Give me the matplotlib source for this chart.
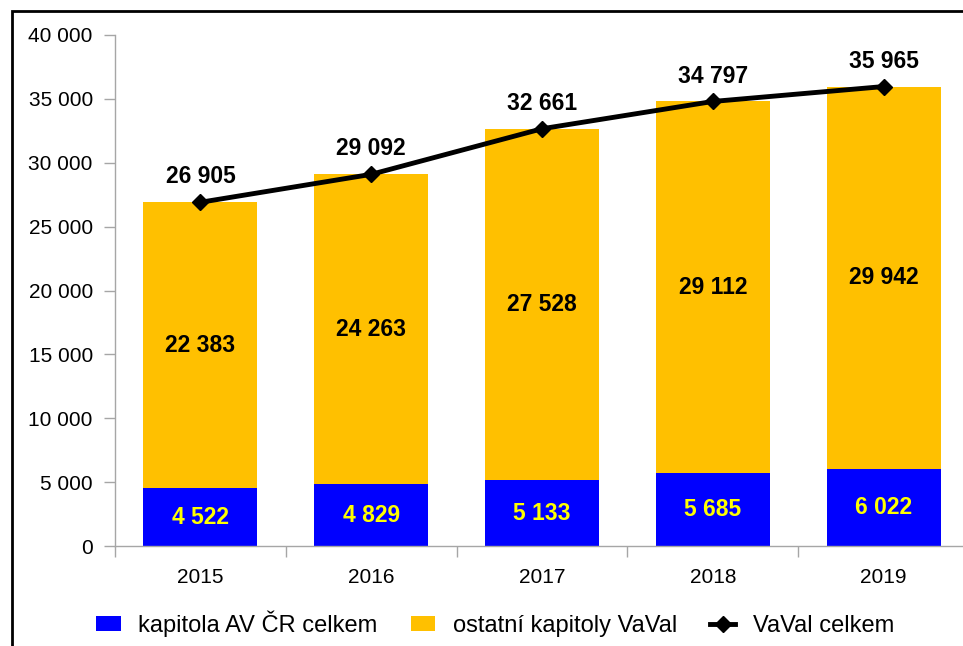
import numpy as np
import matplotlib.pyplot as plt
from matplotlib.patches import Rectangle
from matplotlib.ticker import FuncFormatter, FixedLocator

plt.rcParams['font.family'] = ['Liberation Sans', 'DejaVu Sans']

years = ["2015", "2016", "2017", "2018", "2019"]
av_cr = [4522, 4829, 5133, 5685, 6022]
ostatni = [22383, 24263, 27528, 29112, 29942]
vaval_celkem = [26905, 29092, 32661, 34797, 35965]


def fmt(v):
    return f"{v:,.0f}".replace(",", " ")


fig = plt.figure(figsize=(9.63, 6.46), dpi=100)
ax = fig.add_axes([115 / 963, 100 / 646, 854 / 963, 511 / 646])

x = np.arange(len(years))
w = 0.667
b1 = ax.bar(x, av_cr, w, color="#0000FF", label="kapitola AV ČR celkem", zorder=2)
b2 = ax.bar(x, ostatni, w, bottom=av_cr, color="#FFC000", label="ostatní kapitoly VaVal", zorder=2)
ln, = ax.plot(x, vaval_celkem, color="black", lw=3.5, marker="D", ms=8,
              label="VaVal celkem", zorder=3)

for i in range(len(years)):
    ax.text(x[i], av_cr[i] / 2, fmt(av_cr[i]), ha="center", va="center",
            color="#FFFF00", fontsize=16.5, fontweight="bold", zorder=4)
    ax.text(x[i], av_cr[i] + ostatni[i] / 2, fmt(ostatni[i]), ha="center", va="center",
            color="black", fontsize=16.5, fontweight="bold", zorder=4)
    ax.annotate(fmt(vaval_celkem[i]), (x[i], vaval_celkem[i]), xytext=(0, 10),
                textcoords="offset points", ha="center", va="bottom",
                fontsize=16.5, fontweight="bold", zorder=4)

ax.set_xlim(-0.5, 4.5)
ax.set_ylim(0, 40000)
ax.set_yticks(np.arange(0, 40001, 5000))
ax.yaxis.set_major_formatter(FuncFormatter(lambda v, p: fmt(v)))
ax.set_xticks(x)
ax.set_xticklabels(years)
ax.xaxis.set_minor_locator(FixedLocator(np.arange(-0.5, 5, 1)))
ax.tick_params(axis="x", which="major", length=0, pad=16, labelsize=15)
ax.tick_params(axis="x", which="minor", length=8, color="#A6A6A6", width=1)
ax.tick_params(axis="y", length=8, color="#A6A6A6", width=1, labelsize=15, pad=8)

for s in ["top", "right"]:
    ax.spines[s].set_visible(False)
for s in ["left", "bottom"]:
    ax.spines[s].set_color("#A6A6A6")
    ax.spines[s].set_linewidth(1)

fig.legend(handles=[b1, b2, ln], loc="center", bbox_to_anchor=(0.514, 1 - 624 / 646),
           ncol=3, frameon=False, fontsize=17, handlelength=1.05, handleheight=0.6,
           columnspacing=1.4, handletextpad=0.75)

# outer frame (partly outside the picture)
fig.patches.append(Rectangle((12 / 963, -0.1), 1.2, 1.1 - 11 / 646, transform=fig.transFigure,
                             fill=False, ec="black", lw=2, zorder=10))

fig.savefig("out.png", dpi=100)
